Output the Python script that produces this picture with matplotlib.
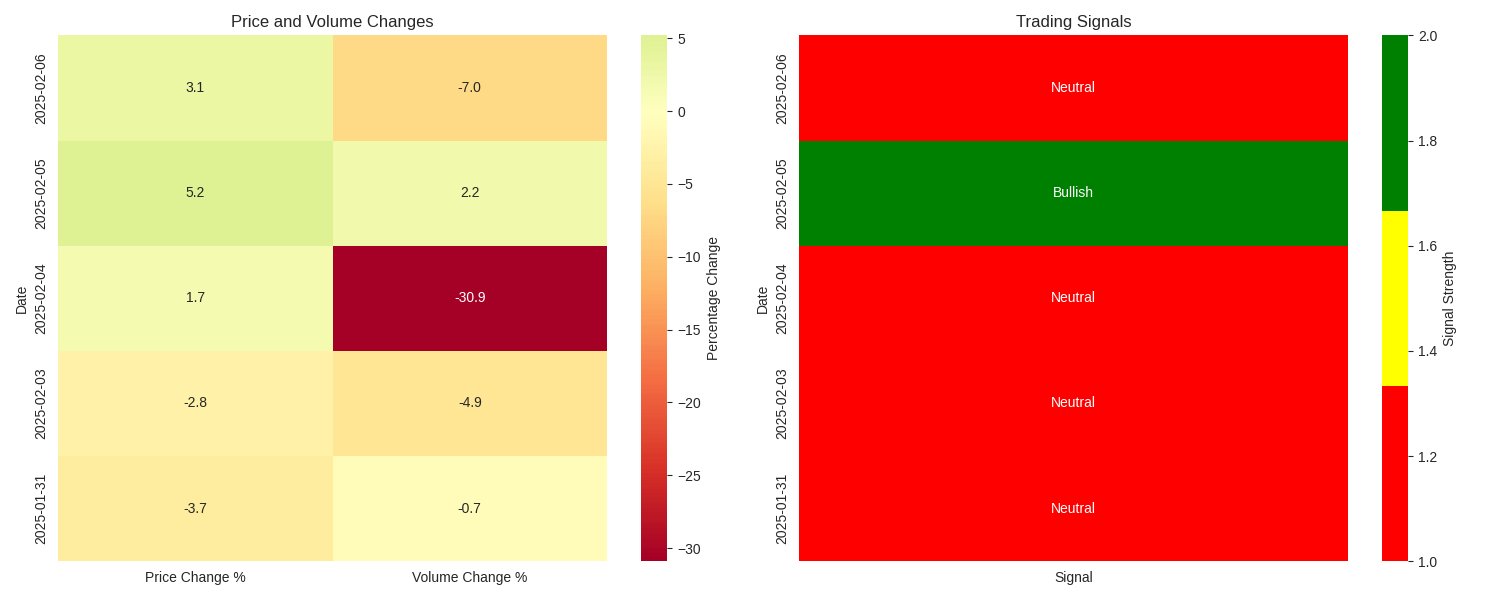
import matplotlib
matplotlib.use("Agg")
import matplotlib.pyplot as plt
import seaborn as sns
import pandas as pd
import numpy as np
from matplotlib.colors import ListedColormap

sns.set_style("white")
plt.rcParams['font.family'] = ['Liberation Sans', 'DejaVu Sans']

dates = ["2025-02-06", "2025-02-05", "2025-02-04", "2025-02-03", "2025-01-31"]
price_change = [3.1, 5.2, 1.7, -2.8, -3.7]
volume_change = [-7.0, 2.2, -30.9, -4.9, -0.7]
signals = ["Neutral", "Bullish", "Neutral", "Neutral", "Neutral"]
signal_strength = [1, 2, 1, 1, 1]

df = pd.DataFrame({"Price Change %": price_change, "Volume Change %": volume_change},
                  index=pd.Index(dates, name="Date"))
sig = pd.DataFrame({"Signal": signal_strength}, index=pd.Index(dates, name="Date"))
sig_annot = np.array(signals).reshape(-1, 1)

fig, (ax1, ax2) = plt.subplots(1, 2, figsize=(15, 6), dpi=100)

sns.heatmap(df, annot=True, fmt=".1f", cmap="RdYlGn", center=0, ax=ax1,
            cbar_kws={"label": "Percentage Change"})
ax1.set_title("Price and Volume Changes")

sns.heatmap(sig, annot=sig_annot, fmt="", cmap=ListedColormap(["red", "yellow", "green"]),
            ax=ax2, vmin=1, vmax=2, cbar_kws={"label": "Signal Strength"})
ax2.set_title("Trading Signals")

plt.tight_layout()
plt.savefig("out.png")
